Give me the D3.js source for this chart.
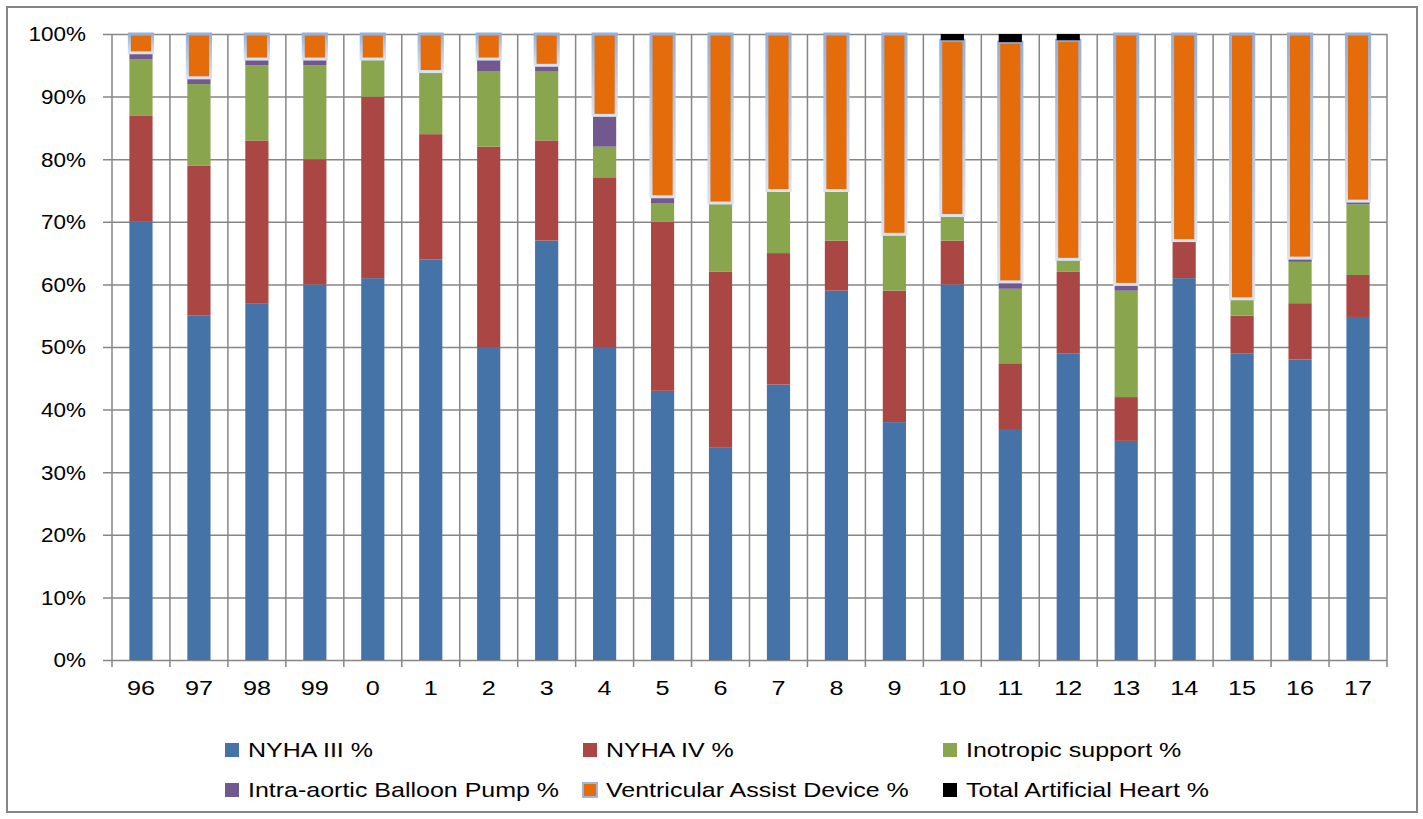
<!DOCTYPE html>
<html>
<head>
<meta charset="utf-8">
<script src="https://cdn.jsdelivr.net/npm/d3@7"></script>
<style>
  body { margin: 0; background: #fff; }
  text { font-family: "Liberation Sans", Arial, sans-serif; fill: #000; }
</style>
</head>
<body>
<div id="chart"></div>
<script>
// categories (years, two-digit)
const categories = ['96', '97', '98', '99', '0', '1', '2', '3', '4', '5', '6', '7', '8', '9', '10', '11', '12', '13', '14', '15', '16', '17'];

// series values, percent of each year
const nyha3 = [70, 55, 57, 60, 61, 64, 50, 67, 50, 43, 34, 44, 59, 38, 60, 36.9, 49, 35, 61, 49, 48, 54.8];
const nyha4 = [17, 24, 26, 20, 29, 20, 32, 16, 27, 27, 28, 21, 8, 21, 7, 10.5, 13, 7, 6, 6, 9, 6.7];
const inotropic = [9, 13, 12, 15, 6, 10, 12, 11, 5, 3, 11, 10, 8, 9, 4, 11.9, 2, 17, 0, 2.7, 6.6, 11.3];
const iabp = [1, 1, 1, 1, 0, 0, 2, 1, 5, 1, 0, 0, 0, 0, 0, 1.1, 0, 1, 0, 0, 0.6, 0.5];
const vad = [3, 7, 4, 4, 4, 6, 4, 5, 13, 26, 27, 25, 25, 32, 28, 38.3, 35, 40, 33, 42.3, 35.8, 26.7];
const tah = [0, 0, 0, 0, 0, 0, 0, 0, 0, 0, 0, 0, 0, 0, 1, 1.3, 1, 0, 0, 0, 0, 0];

const seriesNames = ['NYHA III %', 'NYHA IV %', 'Inotropic support %', 'Intra-aortic Balloon Pump %', 'Ventricular Assist Device %', 'Total Artificial Heart %'];
const yTicks = [0, 10, 20, 30, 40, 50, 60, 70, 80, 90, 100];

const colors = ['#4572a7', '#aa4643', '#89a54e', '#71588f', '#e46c0a', '#000000'];
const seriesValues = [nyha3, nyha4, inotropic, iabp, vad, tah];

const rows = categories.map((c, i) => {
  const r = { cat: c };
  seriesNames.forEach((s, j) => { r[s] = seriesValues[j][i]; });
  return r;
});

const W = 1423, H = 819;
const plot = { left: 112, right: 1387, top: 34, bottom: 660 };
const FONT = '"Liberation Sans", Arial, sans-serif';

const svg = d3.select('#chart')
  .append('svg')
  .attr('width', W)
  .attr('height', H);

// gradient for the VAD outline
const grad = svg.append('defs')
  .append('linearGradient')
  .attr('id', 'vadStroke')
  .attr('x1', 0).attr('y1', 0).attr('x2', 0).attr('y2', 1);
grad.append('stop').attr('offset', '0%').attr('stop-color', '#93b1dc');
grad.append('stop').attr('offset', '100%').attr('stop-color', '#d8e2f1');

// outer frame
svg.append('rect')
  .attr('x', 7).attr('y', 7)
  .attr('width', 1410).attr('height', 805)
  .attr('fill', 'none')
  .attr('stroke', '#868686')
  .attr('stroke-width', 2);

const x = d3.scaleBand()
  .domain(categories)
  .range([plot.left, plot.right])
  .paddingInner(0.6)
  .paddingOuter(0.3);

const y = d3.scaleLinear()
  .domain([0, 100])
  .range([plot.bottom, plot.top]);

// horizontal gridlines (with small left tick)
const yAxis = d3.axisLeft(y)
  .tickValues(yTicks)
  .tickSize(-(plot.right - plot.left + 9))
  .tickFormat('');

const gy = svg.append('g')
  .attr('transform', `translate(${plot.right}, 0)`)
  .call(yAxis);
gy.select('.domain').remove();
gy.selectAll('.tick line')
  .attr('x1', 0)
  .attr('x2', -(plot.right - plot.left + 9))
  .attr('stroke', '#868686')
  .attr('stroke-width', 1.5);

// y labels, stretched a little to match the original face
svg.append('g')
  .selectAll('text')
  .data(yTicks)
  .enter()
  .append('text')
  .attr('transform', d => `translate(86, ${y(d)}) scale(1.07, 1)`)
  .attr('text-anchor', 'end')
  .attr('dy', '0.35em')
  .style('font-size', '21px')
  .text(d => d + '%');

// vertical gridlines at category boundaries
const step = x.step();
const bounds = d3.range(categories.length + 1).map(i => plot.left + i * step);
svg.append('g')
  .selectAll('line')
  .data(bounds)
  .enter()
  .append('line')
  .attr('x1', d => d).attr('x2', d => d)
  .attr('y1', plot.top).attr('y2', plot.bottom + 7)
  .attr('stroke', '#868686')
  .attr('stroke-width', 1.5);

// x axis labels
const xAxis = d3.axisBottom(x).tickSize(0).tickPadding(20);
const gx = svg.append('g')
  .attr('transform', `translate(0, ${plot.bottom})`)
  .call(xAxis);
gx.select('.domain').remove();
gx.selectAll('.tick text')
  .style('font-size', '21px')
  .style('font-family', FONT)
  .attr('fill', '#000')
  .attr('transform', 'scale(1.2, 1)');

// stacked bars
const stack = d3.stack().keys(seriesNames);
const stacked = stack(rows);

stacked.forEach((layer, j) => {
  const isVad = seriesNames[j] === 'Ventricular Assist Device %';
  svg.append('g')
    .attr('class', 'series')
    .selectAll('rect')
    .data(layer.filter(d => d[1] - d[0] > 0))
    .enter()
    .append('rect')
    .attr('x', d => x(d.data.cat))
    .attr('width', x.bandwidth())
    .attr('y', d => y(d[1]))
    .attr('height', d => y(d[0]) - y(d[1]))
    .attr('fill', colors[j])
    .attr('stroke', isVad ? 'url(#vadStroke)' : 'none')
    .attr('stroke-width', isVad ? 3 : 0);
});

// legend
const legendCols = [225, 583, 943];
const legendRows = [750, 790];
const legend = svg.append('g')
  .selectAll('g')
  .data(seriesNames)
  .enter()
  .append('g')
  .attr('transform', (d, i) => `translate(${legendCols[i % 3]}, ${legendRows[Math.floor(i / 3)]})`);

legend.append('rect')
  .attr('x', 0).attr('y', -7)
  .attr('width', 14).attr('height', 14)
  .attr('fill', (d, i) => colors[i])
  .attr('stroke', d => d === 'Ventricular Assist Device %' ? '#9bb7e0' : 'none')
  .attr('stroke-width', 2);

legend.append('text')
  .attr('transform', 'translate(23, 0) scale(1.19, 1)')
  .attr('dy', '0.35em')
  .style('font-size', '21px')
  .text(d => d);
</script>
</body>
</html>
